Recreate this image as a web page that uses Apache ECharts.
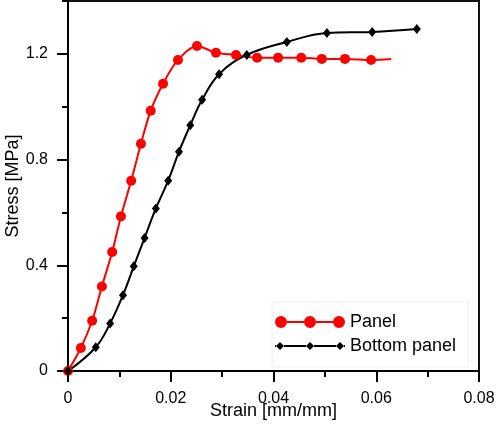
<!DOCTYPE html>
<html>
<head>
<meta charset="utf-8">
<script src="https://cdn.jsdelivr.net/npm/echarts@6/dist/echarts.min.js"></script>
<style>html,body{margin:0;padding:0;background:#fff}#c{width:496px;height:427px}</style>
</head>
<body>
<div id="c"></div>
<script>
// Data
var panelStrain = [0, 0.0025, 0.0047, 0.0066, 0.0086, 0.0103, 0.0123, 0.0142, 0.0161, 0.0185, 0.0214, 0.0251, 0.0288, 0.0327, 0.0368, 0.0409, 0.0454, 0.0494, 0.0539, 0.0590, 0.0629];
var panelStress = [0, 0.087, 0.19, 0.32, 0.45, 0.585, 0.72, 0.86, 0.985, 1.087, 1.177, 1.23, 1.204, 1.196, 1.185, 1.185, 1.185, 1.181, 1.181, 1.177, 1.181];
var bottomStrain = [0, 0.0054, 0.0082, 0.0107, 0.0128, 0.0149, 0.0171, 0.0195, 0.0216, 0.0238, 0.0261, 0.0294, 0.0348, 0.0426, 0.0504, 0.0592, 0.0679];
var bottomStress = [0, 0.09, 0.18, 0.287, 0.396, 0.503, 0.615, 0.72, 0.83, 0.93, 1.026, 1.123, 1.196, 1.245, 1.279, 1.283, 1.294];
var xTicks = [0, 0.02, 0.04, 0.06, 0.08];
var yMajorTicks = [0, 0.4, 0.8, 1.2];
var yMinorTicks = [0.2, 0.6, 1.0, 1.4];
var seriesNames = ['Panel', 'Bottom panel'];

var FONT = "'Liberation Sans', Arial, sans-serif";
var FRAME = '#111111';

function pairs(xs, ys, lastNoSymbol) {
  return xs.map(function (x, i) {
    var item = { value: [x, ys[i]] };
    if (lastNoSymbol && i === xs.length - 1) item.symbol = 'none';
    return item;
  });
}

var circleIcon = 'path://M0,6a6,6 0 1,0 12,0a6,6 0 1,0 -12,0Z M29,6a6,6 0 1,0 12,0a6,6 0 1,0 -12,0Z M58,6a6,6 0 1,0 12,0a6,6 0 1,0 -12,0Z M12,5L29,5L29,7L12,7Z M41,5L58,5L58,7L41,7Z';
var diamondIcon = 'path://M1,4L5,0L9,4L5,8Z M31,4L35,0L39,4L35,8Z M61,4L65,0L69,4L65,8Z M0,3L1,3L1,5L0,5Z M9,3L31,3L31,5L9,5Z M39,3L61,3L61,5L39,5Z M69,3L70,3L70,5L69,5Z';

var chart = echarts.init(document.getElementById('c'), null, { renderer: 'canvas' });
chart.setOption({
  animation: false,
  backgroundColor: '#fff',
  grid: { left: 68, right: 17, top: 1, bottom: 56, containLabel: false, outerBoundsMode: 'none',
          show: true, borderColor: FRAME, borderWidth: 2, backgroundColor: 'transparent' },
  legend: [{
    data: [{ name: seriesNames[0], icon: circleIcon }],
    left: 272, top: 302,
    orient: 'vertical',
    itemWidth: 70, itemHeight: 12, itemGap: 5,
    padding: [11, 72, 36, 3],
    borderColor: '#eeeeee', borderWidth: 1,
    itemStyle: { borderWidth: 0 },
    textStyle: { fontFamily: FONT, fontSize: 18, color: '#000' }
  }, {
    data: [{ name: seriesNames[1], icon: diamondIcon }],
    left: 275, top: 337,
    orient: 'vertical',
    itemWidth: 70, itemHeight: 8,
    padding: 0,
    itemStyle: { borderWidth: 0 },
    textStyle: { fontFamily: FONT, fontSize: 18, color: '#000' }
  }],
  xAxis: [{
    type: 'value', min: xTicks[0], max: xTicks[xTicks.length - 1], interval: 0.02, position: 'bottom',
    name: 'Strain [mm/mm]', nameLocation: 'middle', nameGap: 31, nameMoveOverlap: false,
    nameTextStyle: { fontFamily: FONT, fontSize: 18, color: '#000' },
    axisLine: { onZero: false, lineStyle: { color: '#000', width: 2 } },
    axisTick: { show: true, length: 11, lineStyle: { color: '#000', width: 2 } },
    minorTick: { show: true, splitNumber: 2, length: 6, lineStyle: { color: '#000', width: 2 } },
    axisLabel: { margin: 20, fontFamily: FONT, fontSize: 16, color: '#000' },
    splitLine: { show: false }
  }, {
    type: 'value', min: 0, max: 0.08, position: 'top', show: true,
    axisLine: { show: true, onZero: false, lineStyle: { color: FRAME, width: 2 } },
    axisTick: { show: false }, axisLabel: { show: false }, splitLine: { show: false }
  }],
  yAxis: [{
    type: 'value', min: 0, max: 1.4, position: 'left', offset: 0,
    name: 'Stress [MPa]', nameLocation: 'middle', nameGap: 46, nameMoveOverlap: false,
    nameTextStyle: { fontFamily: FONT, fontSize: 18, color: '#000' },
    axisLine: { show: true, onZero: false, lineStyle: { color: '#000', width: 2 } },
    axisTick: { show: true, length: 11, customValues: yMajorTicks, lineStyle: { color: '#000', width: 2 } },
    axisLabel: { margin: 20, customValues: yMajorTicks, fontFamily: FONT, fontSize: 16, color: '#000' },
    splitLine: { show: false }
  }, {
    type: 'value', min: 0, max: 1.4, position: 'left', offset: 0,
    axisLine: { show: false },
    axisTick: { show: true, length: 6, customValues: yMinorTicks, lineStyle: { color: '#000', width: 2 } },
    axisLabel: { show: false },
    splitLine: { show: false }
  }, {
    type: 'value', min: 0, max: 1.4, position: 'right', offset: 0, show: true,
    axisLine: { show: true, onZero: false, lineStyle: { color: FRAME, width: 2 } },
    axisTick: { show: false }, axisLabel: { show: false }, splitLine: { show: false }
  }],
  series: [{
    name: seriesNames[0], type: 'line', smooth: 0.3,
    data: pairs(panelStrain, panelStress, true),
    symbol: 'circle', symbolSize: 10,
    itemStyle: { color: '#ff0000' },
    lineStyle: { color: '#ff0000', width: 2 }
  }, {
    name: seriesNames[1], type: 'line', smooth: 0.4,
    data: pairs(bottomStrain, bottomStress, false),
    symbol: 'diamond', symbolSize: [8, 10],
    itemStyle: { color: '#000' },
    lineStyle: { color: '#000', width: 2 }
  }]
});
</script>
</body>
</html>
